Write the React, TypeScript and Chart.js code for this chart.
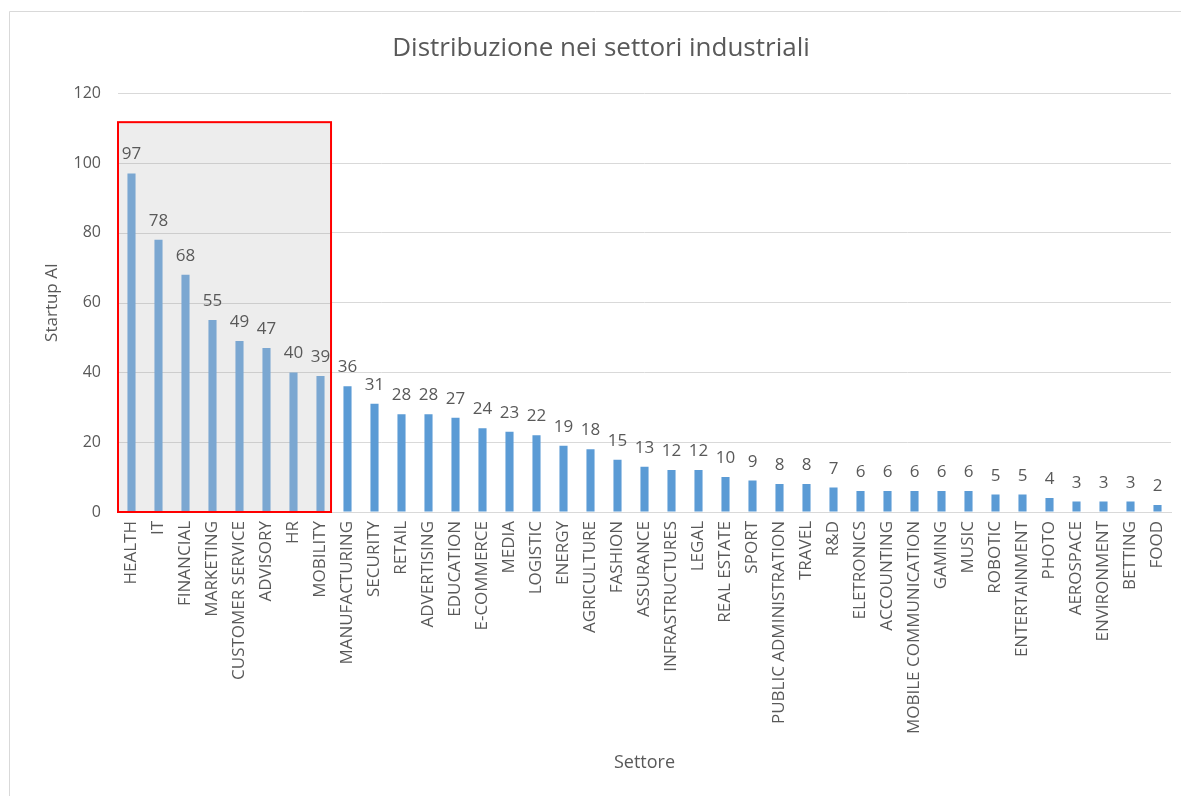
import React, { useEffect, useRef } from "react";
import { Chart, registerables } from "chart.js";

Chart.register(...registerables);

const categories: string[] = [
  "HEALTH", "IT", "FINANCIAL", "MARKETING", "CUSTOMER SERVICE", "ADVISORY", "HR", "MOBILITY",
  "MANUFACTURING", "SECURITY", "RETAIL", "ADVERTISING", "EDUCATION", "E-COMMERCE", "MEDIA",
  "LOGISTIC", "ENERGY", "AGRICULTURE", "FASHION", "ASSURANCE", "INFRASTRUCTURES", "LEGAL",
  "REAL ESTATE", "SPORT", "PUBLIC ADMINISTRATION", "TRAVEL", "R&D", "ELETRONICS", "ACCOUNTING",
  "MOBILE COMMUNICATION", "GAMING", "MUSIC", "ROBOTIC", "ENTERTAINMENT", "PHOTO", "AEROSPACE",
  "ENVIRONMENT", "BETTING", "FOOD",
];

const startupValues: number[] = [
  97, 78, 68, 55, 49, 47, 40, 39, 36, 31, 28, 28, 27, 24, 23, 22, 19, 18, 15, 13, 12, 12, 10, 9,
  8, 8, 7, 6, 6, 6, 6, 6, 5, 5, 4, 3, 3, 3, 2,
];

const yTicks: number[] = [0, 20, 40, 60, 80, 100, 120];

// highlighted group: first N categories, box top value
const highlightCount = 8;
const highlightTop = 111.7;

const TEXT = "#595959";
const FONT = "'Open Sans', 'Noto Sans', sans-serif";

const highlightPlugin = {
  id: "highlightBox",
  beforeDatasetsDraw(chart: any) {
    const { ctx, scales } = chart;
    const x = scales.x, y = scales.y;
    const step = x.getPixelForValue(1) - x.getPixelForValue(0);
    const left = chart.chartArea.left;
    const right = x.getPixelForValue(highlightCount - 1) + step * 0.39;
    const top = y.getPixelForValue(highlightTop);
    const bottom = y.getPixelForValue(0);
    ctx.save();
    ctx.fillStyle = "#EDEDED";
    ctx.fillRect(left, top, right - left, bottom - top);
    ctx.strokeStyle = "rgba(205,205,205,1)";
    ctx.lineWidth = 1;
    yTicks.forEach((t) => {
      const py = Math.round(y.getPixelForValue(t)) + 0.5;
      if (py > top && py <= bottom + 1) {
        ctx.beginPath();
        ctx.moveTo(left, py);
        ctx.lineTo(right, py);
        ctx.stroke();
      }
    });
    ctx.restore();
  },
  afterDatasetsDraw(chart: any) {
    const { ctx, scales } = chart;
    const x = scales.x, y = scales.y;
    const step = x.getPixelForValue(1) - x.getPixelForValue(0);
    const left = chart.chartArea.left;
    const right = x.getPixelForValue(highlightCount - 1) + step * 0.39;
    const top = y.getPixelForValue(highlightTop);
    const bottom = y.getPixelForValue(0);
    ctx.save();
    ctx.strokeStyle = "#FF0000";
    ctx.lineWidth = 2;
    ctx.strokeRect(left, top, right - left, bottom - top);

    // data labels
    ctx.fillStyle = TEXT;
    ctx.font = `17px ${FONT}`;
    ctx.textAlign = "center";
    ctx.textBaseline = "alphabetic";
    const meta = chart.getDatasetMeta(0);
    meta.data.forEach((bar: any, i: number) => {
      ctx.fillText(String(startupValues[i]), bar.x, bar.y - 14);
    });
    ctx.restore();
  },
};

const borderPlugin = {
  id: "frameBorder",
  afterDraw(chart: any) {
    const { ctx, width, height } = chart;
    ctx.save();
    ctx.strokeStyle = "#D9D9D9";
    ctx.lineWidth = 1;
    ctx.beginPath();
    ctx.moveTo(9.5, height);
    ctx.lineTo(9.5, 11.5);
    ctx.lineTo(width, 11.5);
    ctx.stroke();
    ctx.restore();
  },
};

export default function App() {
  const ref = useRef<HTMLCanvasElement | null>(null);
  useEffect(() => {
    if (!ref.current) return;
    const chart = new Chart(ref.current, {
      type: "bar",
      data: {
        labels: categories,
        datasets: [
          {
            label: "Startup AI",
            data: startupValues,
            backgroundColor: startupValues.map((_, i) => (i < highlightCount ? "#7BA7D1" : "#5B9BD5")),
            borderWidth: 0,
            categoryPercentage: 1,
            barPercentage: 0.3,
          },
        ],
      },
      options: {
        responsive: false,
        animation: false,
        layout: { padding: { left: 31, right: 10, top: 20, bottom: 20 } },
        plugins: {
          legend: { display: false },
          tooltip: { enabled: false },
          title: {
            display: true,
            text: "Distribuzione nei settori industriali",
            color: TEXT,
            font: { family: FONT, size: 26, weight: "normal" },
            padding: { top: 13, bottom: 29 },
          },
        },
        scales: {
          x: {
            grid: { display: false, drawTicks: false },
            border: { display: true, color: "#D9D9D9", width: 1 },
            ticks: {
              color: TEXT,
              font: { family: FONT, size: 17 },
              minRotation: 90,
              maxRotation: 90,
              autoSkip: false,
              padding: 9,
            },
            title: {
              display: true,
              text: "Settore",
              color: TEXT,
              font: { family: FONT, size: 18 },
              padding: { top: 0, bottom: 2 },
            },
            afterFit: (s: any) => {
              s.height = 264;
              s.paddingLeft = 0;
              s.paddingRight = 0;
            },
          },
          y: {
            min: 0,
            max: 120,
            grid: { color: "#D9D9D9", drawTicks: false },
            border: { display: false },
            ticks: {
              stepSize: 20,
              color: TEXT,
              font: { family: FONT, size: 16 },
              padding: 17,
            },
            title: {
              display: true,
              text: "Startup AI",
              color: TEXT,
              font: { family: FONT, size: 17 },
              padding: { top: 11, bottom: 4 },
            },
            afterFit: (s: any) => {
              s.width = 87;
            },
          },
        },
      },
      plugins: [highlightPlugin, borderPlugin],
    });
    return () => chart.destroy();
  }, []);

  return (
    <div style={{ position: "absolute", left: 0, top: 0, width: 1181, height: 796, background: "#fff" }}>
      <canvas ref={ref} width={1181} height={796} style={{ display: "block" }} />
    </div>
  );
}
